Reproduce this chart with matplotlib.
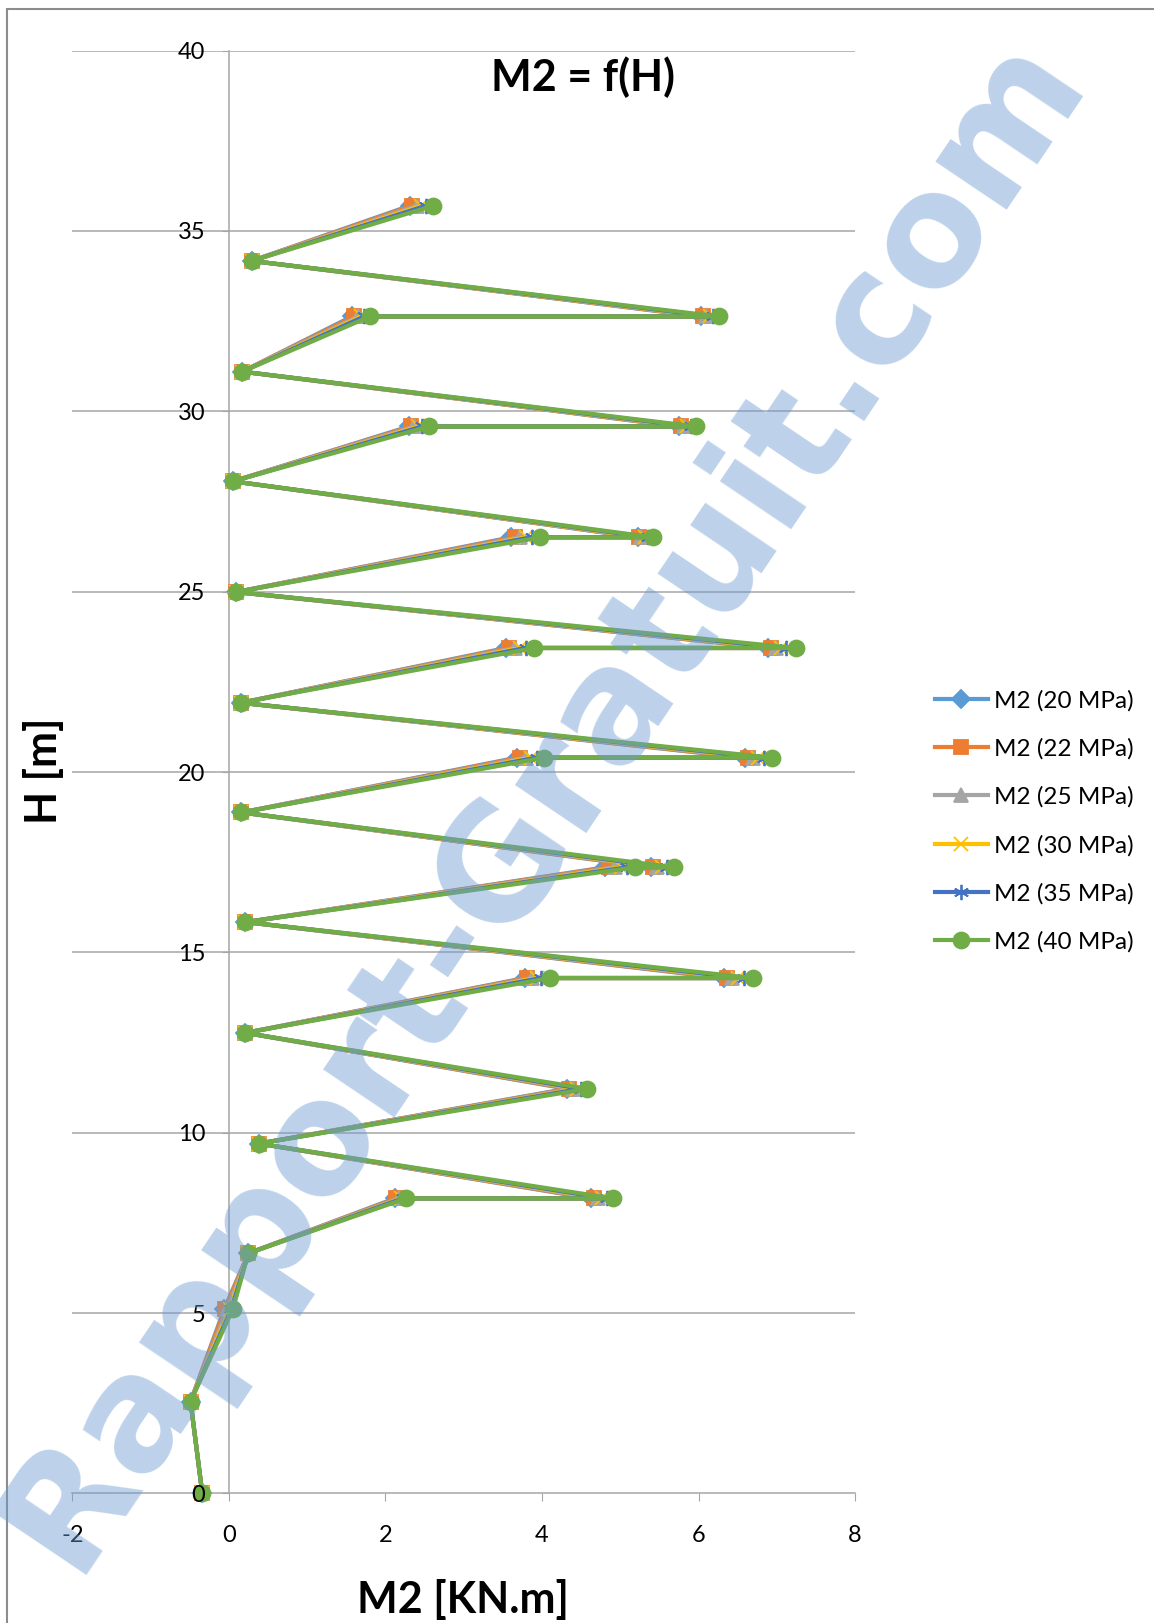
import matplotlib
matplotlib.use('Agg')
from matplotlib import pyplot as plt
from matplotlib.patches import Rectangle


# points in drawing order (height, then moment for each concrete strength)
h = [0.00, 2.55, 5.11, 6.66, 8.18, 8.18, 9.70, 11.22, 12.77, 14.29, 14.29,
     15.84, 17.36, 17.36, 18.88, 20.40, 20.40, 21.92, 23.44, 23.44, 24.99,
     26.51, 26.51, 28.06, 29.58, 29.58, 31.10, 32.63, 32.63, 34.17, 35.70]

m2_20 = [-0.34, -0.49, -0.06, 0.25, 2.12, 4.63, 0.38, 4.32, 0.21, 3.78, 6.32,
         0.21, 4.81, 5.39, 0.16, 3.68, 6.59, 0.15, 3.54, 6.89, 0.09,
         3.61, 5.22, 0.05, 2.30, 5.75, 0.17, 1.57, 6.03, 0.29, 2.31]
m2_22 = [-0.34, -0.49, -0.05, 0.25, 2.14, 4.66, 0.38, 4.35, 0.21, 3.81, 6.36,
         0.21, 4.85, 5.42, 0.16, 3.72, 6.63, 0.15, 3.58, 6.93, 0.09,
         3.65, 5.24, 0.05, 2.33, 5.77, 0.17, 1.60, 6.06, 0.29, 2.34]
m2_25 = [-0.34, -0.49, -0.02, 0.25, 2.17, 4.71, 0.38, 4.40, 0.21, 3.87, 6.43,
         0.21, 4.93, 5.47, 0.16, 3.79, 6.70, 0.15, 3.65, 6.99, 0.09,
         3.72, 5.27, 0.05, 2.37, 5.81, 0.17, 1.65, 6.10, 0.29, 2.40]
m2_30 = [-0.34, -0.49, 0.01, 0.25, 2.20, 4.77, 0.38, 4.45, 0.21, 3.93, 6.50,
         0.21, 5.01, 5.53, 0.16, 3.86, 6.76, 0.15, 3.72, 7.05, 0.09,
         3.80, 5.31, 0.05, 2.42, 5.85, 0.17, 1.69, 6.14, 0.29, 2.46]
m2_35 = [-0.34, -0.49, 0.03, 0.25, 2.22, 4.83, 0.38, 4.50, 0.21, 3.99, 6.58,
         0.21, 5.09, 5.60, 0.16, 3.93, 6.84, 0.15, 3.79, 7.12, 0.09,
         3.87, 5.36, 0.05, 2.47, 5.90, 0.17, 1.73, 6.19, 0.29, 2.52]
m2_40 = [-0.34, -0.49, 0.05, 0.25, 2.26, 4.91, 0.38, 4.58, 0.21, 4.10, 6.69,
         0.21, 5.19, 5.69, 0.16, 4.03, 6.94, 0.15, 3.90, 7.24, 0.09,
         3.98, 5.42, 0.05, 2.55, 5.97, 0.17, 1.80, 6.26, 0.29, 2.61]

labels = ['M2 (20 MPa)', 'M2 (22 MPa)', 'M2 (25 MPa)',
          'M2 (30 MPa)', 'M2 (35 MPa)', 'M2 (40 MPa)']
xticks = [-2, 0, 2, 4, 6, 8]
yticks = [0, 5, 10, 15, 20, 25, 30, 35, 40]

series = [m2_20, m2_22, m2_25, m2_30, m2_35, m2_40]
colors = ['#5b9bd5', '#ed7d31', '#a5a5a5', '#ffc000', '#4472c4', '#70ad47']
markers = ['D', 's', '^', 'x', (6, 2, 0), 'o']
msizes = [9, 10, 10, 10, 11, 11.5]

narrow = ['Liberation Sans Narrow', 'Lato', 'DejaVu Sans']
grid_col = '#a6a6a6'

fig = plt.figure(figsize=(11.54, 16.23), dpi=100)
ax = fig.add_axes([0.0627, 0.0798, 0.6783, 0.889])
ax.set_axisbelow(False)

for s in ['top', 'right']:
    ax.spines[s].set_visible(False)
ax.spines['left'].set_position(('data', 0))
ax.spines['left'].set_color(grid_col)
ax.spines['bottom'].set_color(grid_col)
ax.spines['left'].set_linewidth(1.1)
ax.spines['bottom'].set_linewidth(1.1)
ax.spines['left'].set_zorder(0.5)
ax.spines['bottom'].set_zorder(0.5)

for vals, c, mk, ms, lab in zip(series, colors, markers, msizes, labels):
    ax.plot(vals, h, color=c, lw=3.0, marker=mk, ms=ms, mew=1.3,
            mec=c, mfc=c, label=lab, clip_on=False, zorder=2)

ax.set_xlim(-2, 8)
ax.set_ylim(0, 40)
ax.set_xticks(xticks)
ax.set_yticks(yticks)
ax.set_xticklabels([str(v) for v in xticks], family=narrow, fontsize=17)
ax.set_yticklabels([str(v) for v in yticks], family=narrow, fontsize=17)
ax.tick_params(axis='x', direction='out', length=6, color=grid_col, pad=17)
ax.tick_params(axis='y', direction='out', length=5, color=grid_col, pad=12)

for y in yticks[1:]:
    ax.axhline(y, color=grid_col, lw=1.1, zorder=0.5)

fig.text(0.505, 1 - 77 / 1623, 'M2 = f(H)', family=narrow, fontsize=31,
         fontweight='bold', ha='center', va='center')
fig.text(0.401, 1 - 1599 / 1623, 'M2 [KN.m]', family=narrow, fontsize=31,
         fontweight='bold', ha='center', va='center')
fig.text(0.038, 1 - 771 / 1623, 'H [m]', family=narrow, fontsize=31,
         fontweight='bold', ha='center', va='center', rotation=90)

fig.legend(loc='center left', bbox_to_anchor=(0.810, 0.494), frameon=False,
           handlelength=2.2, handletextpad=0.25,
           labelspacing=1.1, borderpad=0, borderaxespad=0,
           prop={'family': 'Lato', 'size': 17.5})

# chart frame (only left and top edges fall inside the picture)
fig.patches.append(Rectangle((7 / 1154, -0.05), 1.2, 1.05 - 9 / 1623,
                             transform=fig.transFigure, fill=False,
                             edgecolor='#8c8c8c', lw=1.5))

# watermark
fig.text(0.471, 0.507, 'Rapport-Gratuit.com', fontsize=112,
         fontweight='bold', color='#6c9bd2', alpha=0.45, rotation=56,
         ha='center', va='center', rotation_mode='anchor', zorder=10)

fig.savefig('out.png', dpi=100)
